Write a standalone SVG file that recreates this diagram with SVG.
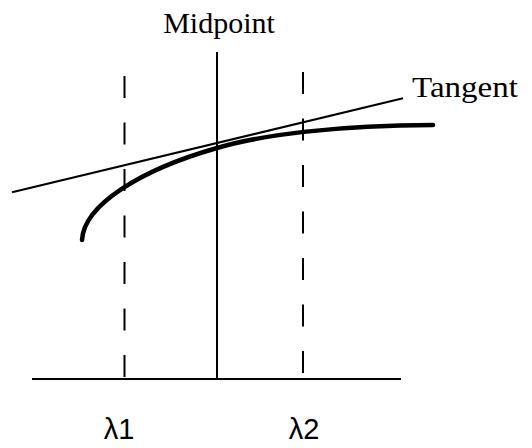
<svg xmlns="http://www.w3.org/2000/svg" width="532" height="448" viewBox="0 0 532 448">
<style>
.serif{font-family:"Liberation Serif","Times New Roman",serif;font-size:30px;fill:#000}
.sans{font-family:"Liberation Sans",Arial,sans-serif;font-size:29px;fill:#000}
.thin{stroke:#000;stroke-width:2;fill:none}
.dash{stroke:#000;stroke-width:2;fill:none;stroke-dasharray:22 24.5}
</style>
<rect width="532" height="448" fill="#fff"/>
<g id="connectors">
<line id="axis" class="thin" x1="32" y1="379" x2="401" y2="379"/>
<line id="midline" class="thin" x1="217" y1="52" x2="217" y2="380"/>
<line id="lambda1-line" class="dash" x1="124.5" y1="76" x2="124.5" y2="379"/>
<line id="lambda2-line" class="dash" x1="303" y1="72" x2="303" y2="379"/>
<line id="tangent-line" class="thin" x1="12" y1="192.3" x2="403" y2="98.3"/>
<path id="curve" d="M82 240 C84 205 140 170 217 148 C260 135 340 125 433 125" fill="none" stroke="#000" stroke-width="4.5" stroke-linecap="round"/>
</g>
<g id="midpoint-label"><text class="serif" x="219" y="33" text-anchor="middle">Midpoint</text></g>
<g id="tangent-label"><text class="serif" x="412" y="97" textLength="106" lengthAdjust="spacingAndGlyphs">Tangent</text></g>
<g id="lambda1-label"><text class="sans" x="119" y="439" text-anchor="middle">λ1</text></g>
<g id="lambda2-label"><text class="sans" x="304" y="439" text-anchor="middle">λ2</text></g>
</svg>
